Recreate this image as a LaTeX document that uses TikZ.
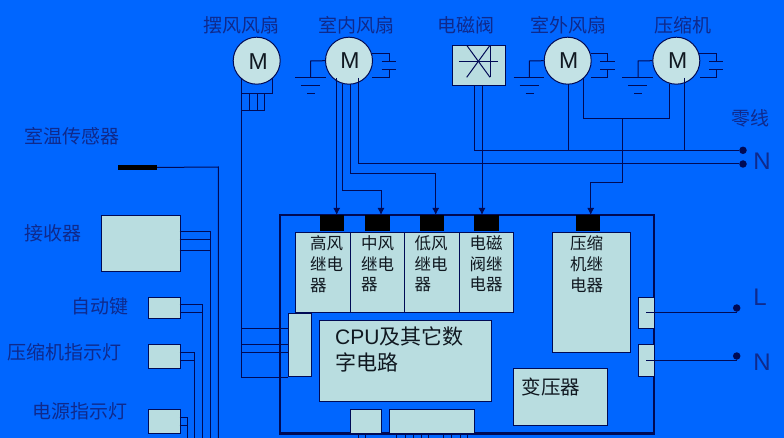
\documentclass[tikz,border=0pt]{standalone}
\usepackage{fontspec}
\setmainfont{Liberation Sans}
\newfontfamily\cjk{Noto Sans CJK SC}
\usetikzlibrary{calc}
\usetikzlibrary{arrows.meta}

\definecolor{bgblue}{HTML}{0066FF}
\definecolor{boxfill}{HTML}{B9DDE0}
\definecolor{wirecol}{HTML}{000A55}
\definecolor{labelcol}{HTML}{0F2A8C}
\definecolor{inktext}{HTML}{101820}

\tikzset{
  wire/.style={draw=wirecol,line width=1pt},
  feed/.style={wire,-{Latex[length=7pt,width=7pt]}},
  motor/.style={circle,draw=wirecol,line width=1pt,fill=boxfill!85!white,minimum size=47pt,inner sep=0pt,text=inktext,font=\fontsize{23}{23}\selectfont},
  boxa/.style={draw=wirecol,line width=1pt,fill=boxfill,inner sep=0pt,anchor=north west},
  terminal/.style={fill=black,inner sep=0pt,anchor=north west,minimum width=24pt,minimum height=16pt},
  tag/.style={text=labelcol,inner sep=0pt,font=\fontsize{19}{19}\selectfont\cjk},
  latin/.style={text=labelcol,inner sep=0pt,font=\fontsize{24}{24}\selectfont},
  relaytext/.style={text=inktext,inner sep=0pt,anchor=north west,align=left,font=\fontsize{16.5}{20.7}\selectfont\cjk},
  dot/.style={circle,fill=wirecol,inner sep=0pt,minimum size=7.5pt}
}

\begin{document}
\begin{tikzpicture}[x=1pt,y=-1pt]
\useasboundingbox (0,0) rectangle (784,438);
\fill[bgblue] (0,0) rectangle (784,438);

% motors and valve
\node[motor,text depth=0pt,xshift=0pt] (mSwing) at (256.7,60.7) {\raisebox{-1pt}{\hspace{3pt}M}};
\node[motor] (mIn) at (349,60.7) {\raisebox{-1pt}{\hspace{2pt}M}};
\node[motor] (mOut) at (567.7,60.7) {\raisebox{-1pt}{\hspace{2pt}M}};
\node[motor] (mComp) at (676.3,60.7) {\raisebox{-1pt}{\hspace{3pt}M}};
\node[boxa,minimum width=53.6pt,minimum height=40pt] (valve) at (451.7,45.3) {};
\draw[wire] (459,61.3) -- (498,61.3);
\draw[wire] (466.7,45.3) -- (490,77.3);
\draw[wire] (490,45.3) -- (466.7,77.3);
\draw[wire] (490,45.3) -- (490,77.3);

% earth and capacitor beside three of the motors
\foreach \m in {mIn,mOut,mComp}{
  \coordinate (stem) at ($(\m.center)+(-38.3,0.3)$);
  \draw[wire] (\m.west) -- (stem) -- ++(0,16.3);
  \draw[wire] ($(stem)+(-15.7,16.3)$) -- ++(30.7,0);
  \draw[wire] ($(stem)+(-9.7,24.3)$) -- ++(19,0);
  \draw[wire] ($(stem)+(-3.7,33)$) -- ++(8,0);
  \coordinate (capa) at ($(\m.center)+(40,-7.4)$);
  \draw[wire] ($(\m.center)+(23,-7.4)$) -- (capa) -- ++(0,8);
  \draw[wire] ($(capa)+(-7.3,8)$) -- ++(14.3,0);
  \draw[wire] ($(capa)+(-7.3,16)$) -- ++(14.3,0);
  \draw[wire] ($(capa)+(0,16)$) -- ++(0,8) -- ++(-16.7,0);
}

% main board
\draw[draw=wirecol,line width=2.4pt] (280,215) rectangle (654,433.3);
\node[terminal] (tHigh) at (319.3,215) {};
\node[terminal,minimum width=25pt] (tMid) at (365,215) {};
\node[terminal] (tLow) at (420,215) {};
\node[terminal,minimum width=25pt] (tValve) at (474,215) {};
\node[terminal] (tComp) at (576,215) {};
\node[boxa,minimum width=54.7pt,minimum height=80pt] (rHigh) at (295.3,231.7) {};
\node[boxa,minimum width=54.3pt,minimum height=80pt] (rMid) at (350,231.7) {};
\node[boxa,minimum width=55pt,minimum height=80pt] (rLow) at (404.3,231.7) {};
\node[boxa,minimum width=54pt,minimum height=80pt] (rValve) at (459.3,231.7) {};
\node[boxa,minimum width=78pt,minimum height=120.6pt] (rComp) at (552.3,231.7) {};
\node[boxa,minimum width=23pt,minimum height=63.6pt] (portLeft) at (288.3,312.7) {};
\node[boxa,minimum width=171.4pt,minimum height=81pt] (cpu) at (319.3,320.3) {};
\node[boxa,minimum width=93.4pt,minimum height=57pt] (trans) at (513.3,368.3) {};
\node[boxa,minimum width=31pt,minimum height=24pt] (portA) at (350.3,409.3) {};
\node[boxa,minimum width=85pt,minimum height=24pt] (portB) at (389.3,409.3) {};
\node[boxa,minimum width=15.7pt,minimum height=31.6pt] (portL) at (638.3,296.7) {};
\node[boxa,minimum width=15.7pt,minimum height=31.7pt] (portN) at (638.3,344.3) {};

\node[relaytext] (txtHigh) at (310,235.5) {高风\\继电\\器};
\node[relaytext] (txtMid) at (361,235.5) {中风\\继电\\器};
\node[relaytext] (txtLow) at (414.3,235.5) {低风\\继电\\器};
\node[relaytext] (txtValve) at (469.3,235.5) {电磁\\阀继\\电器};
\node[relaytext] (txtComp) at (570,235.5) {压缩\\机继\\电器};
\node[relaytext,font=\fontsize{21}{26}\selectfont] (txtCpu) at (335,327) {CPU{\cjk 及其它数}\\{\cjk 字电路}};
\node[relaytext,font=\fontsize{19.5}{19.5}\selectfont\cjk] (txtTrans) at (521.7,378) {变压器};

% parts on the left
\node[boxa,fill=black,draw=none,minimum width=39pt,minimum height=5.5pt] (sensor) at (117,164.2) {};
\node[boxa,minimum width=78.4pt,minimum height=56pt] (recv) at (101.3,215.3) {};
\node[boxa,minimum width=31.4pt,minimum height=21.6pt] (autoKey) at (148.3,296.7) {};
\node[boxa,minimum width=31.4pt,minimum height=24pt] (lampComp) at (148.3,344.3) {};
\node[boxa,minimum width=31.4pt,minimum height=24pt] (lampPow) at (148.3,409.3) {};

% labels
\node[tag] (lSwing) at (241.5,25) {摆风风扇};
\node[tag] (lIn) at (356,25) {室内风扇};
\node[tag] (lValve) at (465.5,25) {电磁阀};
\node[tag] (lOut) at (568,25) {室外风扇};
\node[tag] (lComp) at (683.3,25) {压缩机};
\node[tag] (lZero) at (750.8,118) {零线};
\node[tag] (lSensor) at (72,136) {室温传感器};
\node[tag] (lRecv) at (53,233) {接收器};
\node[tag] (lAuto) at (100,306.7) {自动键};
\node[tag] (lLampC) at (64.5,352.7) {压缩机指示灯};
\node[tag] (lLampP) at (80,411.7) {电源指示灯};
\node[latin] (lN) at (762,161) {N};
\node[latin] (lL) at (760,297) {L};
\node[latin] (lNb) at (762,362) {N};

% mains points
\node[dot] (dZero) at (743,150.3) {};
\node[dot] (dN) at (743,164) {};
\node[dot] (dL) at (736.7,308) {};
\node[dot] (dNb) at (736.7,356) {};

% wires of the swing motor
\coordinate (swA) at (241.3,78);
\coordinate (swB) at (272.7,78);
\coordinate (swC) at (249.3,93.7);
\coordinate (swD) at (257.5,93.7);
\coordinate (swE) at (264.7,93.7);
\draw[wire] (swA) -- (swA |- portLeft.south) -- (portLeft.south west);
\draw[wire] (swB) -- (272.7,93.7) -- (241.3,93.7);
\draw[wire] (241.3,110.3) -- (264.7,110.3);
\foreach \c in {swC,swD,swE}{
  \draw[wire] (\c) -- ++(0,16.6);
}
\foreach \y in {328.3,344.3,352.3}{
  \draw[wire] (241.3,\y) -- (288.3,\y);
}

% wires of the room fan
\coordinate (inA) at (336.7,78);
\coordinate (inB) at (342.7,84);
\coordinate (inC) at (350.7,84);
\coordinate (inD) at (358.3,78);
\draw[feed] (inA) -- (inA |- tHigh.north);
\draw[feed] (inB) |- (381,190.7) -- (381,215);
\draw[feed] (inC) |- (435.7,174) -- (435.7,215);
\draw[wire] (inD) |- (dN);

% valve and outdoor wires
\coordinate (vaA) at (474.7,85.3);
\coordinate (vaB) at (482,85.3);
\coordinate (ouA) at (568.7,84);
\coordinate (ouB) at (583.3,78);
\coordinate (coA) at (669.7,84);
\coordinate (coB) at (684.3,78);
\coordinate (joint) at (622.3,118.3);
\draw[wire] (vaA) |- (dZero);
\draw[feed] (vaB) -- (vaB |- tValve.north);
\draw[wire] (ouA) -- (ouA |- dZero);
\draw[wire] (coB) -- (coB |- dZero);
\draw[wire] (ouB) |- (coA |- joint) -- (coA);
\draw[feed] (joint) |- (590.7,182.3) -- (590.7,215);

% wires of the two side ports
\draw[wire] (646,312.3) -- (736.7,312.3) -- (dL);
\draw[wire] (646,360.3) -- (736.7,360.3) -- (dNb);

% wires of the parts on the left
\draw[wire] (sensor.east) -- (218.3,167) -- (218.3,438);
\foreach \y in {231.3,239.3,250.3}{
  \draw[wire] (179.7,\y) -- (210.3,\y);
}
\foreach \y in {304.3,312.3}{
  \draw[wire] (179.7,\y) -- (202.7,\y);
}
\foreach \y in {352.3,360.3}{
  \draw[wire] (179.7,\y) -- (194.3,\y);
}
\foreach \y in {417.3,425.3}{
  \draw[wire] (179.7,\y) -- (187.7,\y);
}
\draw[wire] (210.3,231.3) -- (210.3,438);
\draw[wire] (202.7,304.3) -- (202.7,438);
\draw[wire] (194.3,352.3) -- (194.3,438);
\draw[wire] (187.7,417.3) -- (187.7,438);

% stubs under the bottom ports
\foreach \x in {358.3,365,396.7,405,413.3,421,428.3,443.3,451.7,460,467.7}{
  \draw[wire] (\x,433.3) -- (\x,438);
}
\end{tikzpicture}
\end{document}
